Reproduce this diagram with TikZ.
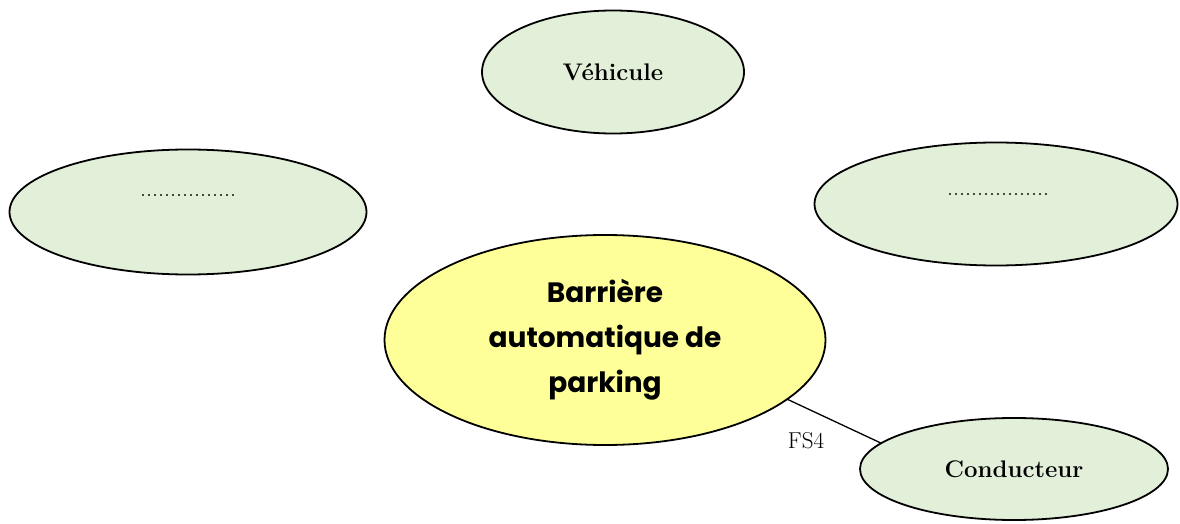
\documentclass[tikz,border=0pt]{standalone}
\usepackage{fontspec}
\newfontfamily\comicfont{Poppins}
\usetikzlibrary{shapes.geometric}
\definecolor{lgreen}{HTML}{E2EFD9}
\definecolor{lyellow}{HTML}{FFFF99}
\tikzset{
  ell/.style={ellipse, draw=black, line width=1.8pt, inner sep=0pt, outer sep=0pt},
  greenell/.style={ell, fill=lgreen},
  lbl/.style={font=\fontsize{24}{28}\selectfont\bfseries},
  dots/.style={font=\fontsize{24}{28}\selectfont},
  conn/.style={draw=black, line width=1.3pt}
}
\begin{document}
\begin{tikzpicture}[x=1pt,y=1pt]
\useasboundingbox (0,0) rectangle (1180,523);
\node[greenell, minimum width=262pt, minimum height=123pt, lbl] (veh) at (613,451) {Véhicule};
\node[greenell, minimum width=357pt, minimum height=125pt] (left) at (188,311) {};
\node[dots] (lefttxt) at (188,327) {................};
\node[greenell, minimum width=363pt, minimum height=123pt] (right) at (996,319) {};
\node[dots] (righttxt) at (998,328) {.................};
\node[ell, fill=lyellow, minimum width=441pt, minimum height=210pt, align=center,
      font=\comicfont\bfseries\fontsize{28}{45}\selectfont] (main) at (605,183)
      {Barrière\\automatique de\\parking};
\node[greenell, minimum width=308pt, minimum height=102pt, lbl] (cond) at (1014,54) {Conducteur};
\draw[conn] (main.-18.3) -- (cond.169.4);
\node[font=\fontsize{23}{27}\selectfont] (fs4) at (806,82) {FS4};
\end{tikzpicture}
\end{document}
